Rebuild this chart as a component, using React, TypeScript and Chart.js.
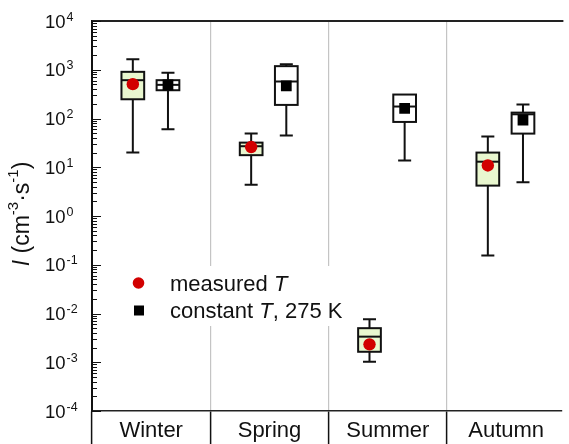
import React, { useEffect, useRef } from "react";
import { Chart, registerables } from "chart.js";

Chart.register(...registerables);

const categories = ["Winter", "Spring", "Summer", "Autumn"];

const measuredMin = [20, 4.4, 0.00102, 0.155];
const measuredQ1 = [248, 17.7, 0.00164, 4.2];
const measuredMedian = [611, 27, 0.00335, 13];
const measuredQ3 = [906, 32, 0.005, 20];
const measuredMax = [1650, 49, 0.0076, 42.5];
const measuredMean = [506, 26, 0.00233, 10.9];

const constantMin = [60, 45, 13.8, 4.9];
const constantQ1 = [380, 190, 85, 49];
const constantMedian = [490, 574, 176, 122];
const constantQ3 = [611, 1185, 310, 132];
const constantMax = [870, 1300, 310, 193];
const constantMean = [490, 467, 162, 93];

const yExponents = [-4, -3, -2, -1, 0, 1, 2, 3, 4];

const measuredOffset = -0.155;
const constantOffset = 0.142;
const RED = "#d20000";
const GREEN = "#e9f7cf";
const FONT = "'Liberation Sans', Arial, sans-serif";

const boxPlugin = {
  id: "boxes",
  beforeDatasetsDraw(chart: any) {
    const ctx = chart.ctx;
    const xs = chart.scales.x;
    const ys = chart.scales.y;
    const series = [
      { off: measuredOffset, min: measuredMin, q1: measuredQ1, med: measuredMedian, q3: measuredQ3, max: measuredMax, fill: GREEN },
      { off: constantOffset, min: constantMin, q1: constantQ1, med: constantMedian, q3: constantQ3, max: constantMax, fill: "#ffffff" },
    ];
    ctx.save();
    ctx.strokeStyle = "#111";
    ctx.lineWidth = 2;
    for (const s of series) {
      for (let i = 0; i < categories.length; i++) {
        const xc = xs.getPixelForValue(i + s.off);
        const bl = xs.getPixelForValue(i + s.off - 0.096);
        const br = xs.getPixelForValue(i + s.off + 0.096);
        const cl = xs.getPixelForValue(i + s.off - 0.055);
        const cr = xs.getPixelForValue(i + s.off + 0.055);
        const yMin = ys.getPixelForValue(s.min[i]);
        const yQ1 = ys.getPixelForValue(s.q1[i]);
        const yMed = ys.getPixelForValue(s.med[i]);
        const yQ3 = ys.getPixelForValue(s.q3[i]);
        const yMax = ys.getPixelForValue(s.max[i]);
        ctx.beginPath();
        ctx.moveTo(xc, yMin);
        ctx.lineTo(xc, yQ1);
        ctx.moveTo(xc, yQ3);
        ctx.lineTo(xc, yMax);
        ctx.moveTo(cl, yMin);
        ctx.lineTo(cr, yMin);
        if (Math.abs(yMax - yQ3) > 0.5) {
          ctx.moveTo(cl, yMax);
          ctx.lineTo(cr, yMax);
        }
        ctx.stroke();
        ctx.fillStyle = s.fill;
        ctx.fillRect(bl, yQ3, br - bl, yQ1 - yQ3);
        ctx.strokeRect(bl, yQ3, br - bl, yQ1 - yQ3);
        ctx.beginPath();
        ctx.moveTo(bl, yMed);
        ctx.lineTo(br, yMed);
        ctx.stroke();
      }
    }
    ctx.restore();
  },
};

const decorPlugin = {
  id: "decor",
  afterDraw(chart: any) {
    const ctx = chart.ctx;
    const ys = chart.scales.y;
    const area = chart.chartArea;
    ctx.save();
    // top border
    ctx.strokeStyle = "#222";
    ctx.lineWidth = 2;
    ctx.beginPath();
    ctx.moveTo(area.left, area.top);
    ctx.lineTo(area.right + 2, area.top);
    ctx.stroke();
    // inward y ticks
    ctx.lineWidth = 1;
    ctx.strokeStyle = "#111";
    ctx.beginPath();
    for (let k = 0; k < yExponents.length; k++) {
      const e = yExponents[k];
      const y = Math.round(ys.getPixelForValue(Math.pow(10, e))) + 0.5;
      ctx.moveTo(area.left, y);
      ctx.lineTo(area.left + 9, y);
      if (k < yExponents.length - 1) {
        for (let m = 2; m <= 9; m++) {
          const ym = Math.round(ys.getPixelForValue(m * Math.pow(10, e))) + 0.5;
          ctx.moveTo(area.left, ym);
          ctx.lineTo(area.left + 5, ym);
        }
      }
    }
    ctx.stroke();
    // y tick labels
    ctx.fillStyle = "#111";
    for (const e of yExponents) {
      const y = ys.getPixelForValue(Math.pow(10, e));
      ctx.font = `18.5px ${FONT}`;
      ctx.textAlign = "right";
      ctx.textBaseline = "alphabetic";
      ctx.fillText("10", 65.5, y + 6.5);
      ctx.font = `12.5px ${FONT}`;
      ctx.textAlign = "left";
      ctx.fillText(String(e), 66.5, y - 0.5);
    }
    // y title
    const segs = [
      { t: "I", f: `italic 23px ${FONT}`, dy: 0 },
      { t: " (cm", f: `23px ${FONT}`, dy: 0 },
      { t: "-3", f: `15px ${FONT}`, dy: -11 },
      { t: "·s", f: `23px ${FONT}`, dy: 0 },
      { t: "-1", f: `15px ${FONT}`, dy: -11 },
      { t: ")", f: `23px ${FONT}`, dy: 0 },
    ];
    let total = 0;
    for (const s of segs) {
      ctx.font = s.f;
      total += ctx.measureText(s.t).width;
    }
    ctx.translate(29, (area.top + area.bottom) / 2 - 2);
    ctx.rotate(-Math.PI / 2);
    ctx.textAlign = "left";
    ctx.textBaseline = "alphabetic";
    let x = -total / 2;
    for (const s of segs) {
      ctx.font = s.f;
      ctx.fillText(s.t, x, s.dy);
      x += ctx.measureText(s.t).width;
    }
    ctx.restore();
  },
  afterDatasetsDraw(chart: any) {
    const ctx = chart.ctx;
    const area = chart.chartArea;
    const lx = area.left;
    const ly = area.top;
    ctx.save();
    ctx.fillStyle = "#ffffff";
    ctx.fillRect(lx + 24, ly + 245, 236, 60);
    // markers
    ctx.fillStyle = RED;
    ctx.beginPath();
    ctx.arc(lx + 46.5, ly + 262, 5.8, 0, Math.PI * 2);
    ctx.fill();
    ctx.fillStyle = "#000";
    ctx.fillRect(lx + 42, ly + 284.5, 10, 10);
    const rows = [
      { parts: [{ t: "measured ", i: false }, { t: "T", i: true }], base: ly + 269.5 },
      { parts: [{ t: "constant ", i: false }, { t: "T", i: true }, { t: ", 275 K", i: false }], base: ly + 297 },
    ];
    ctx.fillStyle = "#111";
    ctx.textAlign = "left";
    ctx.textBaseline = "alphabetic";
    for (const r of rows) {
      let x = lx + 78;
      for (const p of r.parts) {
        ctx.font = `${p.i ? "italic " : ""}22px ${FONT}`;
        ctx.fillText(p.t, x, r.base);
        x += ctx.measureText(p.t).width;
      }
    }
    ctx.restore();
  },
};

export default function App() {
  const ref = useRef<HTMLCanvasElement>(null);
  useEffect(() => {
    document.body.style.margin = "0";
    const canvas = ref.current!;
    const chart = new Chart(canvas, {
      type: "scatter",
      data: {
        datasets: [
          {
            label: "measured T",
            data: measuredMean.map((v, i) => ({ x: i + measuredOffset, y: v })),
            pointStyle: "circle",
            pointRadius: 6.2,
            pointBackgroundColor: RED,
            pointBorderWidth: 0,
            showLine: false,
          },
          {
            label: "constant T, 275 K",
            data: constantMean.map((v, i) => ({ x: i + constantOffset, y: v })),
            pointStyle: "rect",
            pointRadius: 7.6,
            pointBackgroundColor: "#000",
            pointBorderWidth: 0,
            showLine: false,
          },
        ],
      },
      options: {
        responsive: false,
        animation: false,
        devicePixelRatio: 1,
        layout: { padding: { top: 21, right: 1, left: 0, bottom: 0 } },
        plugins: { legend: { display: false }, tooltip: { enabled: false } },
        scales: {
          x: {
            type: "linear",
            min: -0.5,
            max: -0.5 + 476 / 120,
            afterBuildTicks: (scale: any) => {
              scale.ticks = categories.map((_, i) => ({ value: i }));
            },
            afterFit: (scale: any) => {
              scale.height = 33;
            },
            ticks: {
              callback: (v: any) => categories[Math.round(Number(v))] ?? "",
              autoSkip: false,
              maxRotation: 0,
              padding: -26,
              color: "#111",
              font: { size: 22, family: FONT },
            },
            grid: {
              offset: true,
              color: "#c4c4c4",
              lineWidth: 1.2,
              tickColor: "#111",
              tickLength: 33,
              tickWidth: 1.5,
            },
            border: { display: true, color: "#222", width: 1.5 },
          },
          y: {
            type: "logarithmic",
            min: 1e-4,
            max: 1e4,
            afterFit: (scale: any) => {
              scale.width = 92;
            },
            ticks: { display: false },
            grid: { drawOnChartArea: false, drawTicks: false },
            border: { display: true, color: "#111", width: 2 },
          },
        },
      },
      plugins: [boxPlugin, decorPlugin],
    });
    return () => chart.destroy();
  }, []);
  return (
    <div style={{ width: 569, height: 444 }}>
      <canvas ref={ref} width={569} height={444} style={{ display: "block" }} />
    </div>
  );
}
